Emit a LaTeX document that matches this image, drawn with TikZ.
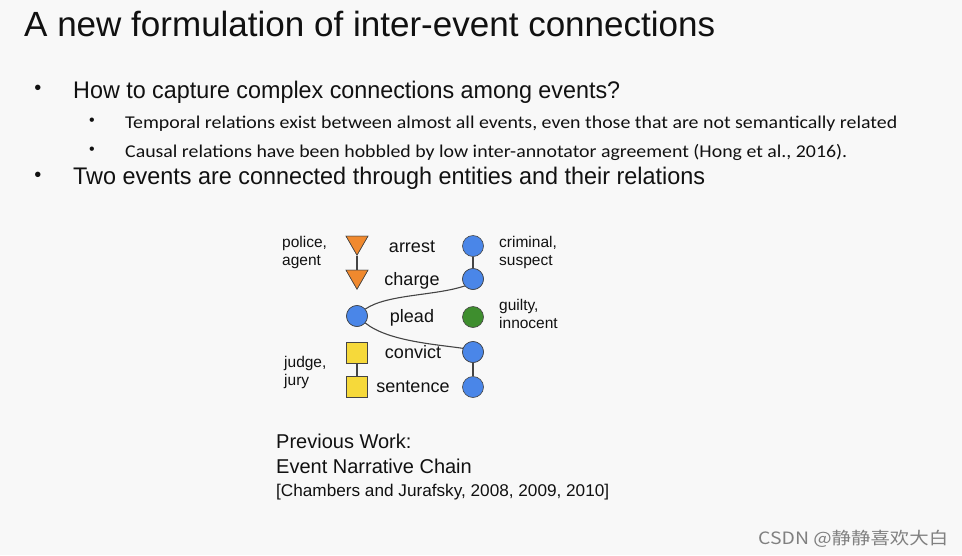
\documentclass[tikz,border=0pt]{standalone}
\usepackage{fontspec}
\usepackage{graphicx}
\setmainfont{Liberation Sans}
\newfontfamily\calib{Carlito}
\newfontfamily\cjk{Noto Sans CJK SC}
\usetikzlibrary{shapes.geometric}
\definecolor{bgc}{HTML}{F8F8F8}
\definecolor{txt}{HTML}{111111}
\definecolor{orng}{HTML}{F0892E}
\definecolor{blu}{HTML}{4A86E8}
\definecolor{grn}{HTML}{3E8E2E}
\definecolor{yel}{HTML}{F6D93A}
\definecolor{edge}{HTML}{444444}
\newcommand{\fitw}[2]{\resizebox{#1}{\height}{#2}}
\tikzset{
  lab/.style={anchor=base west, inner sep=0pt, text=txt},
  ev/.style={anchor=base, inner sep=0pt, text=txt, font=\fontsize{18}{20}\selectfont},
  ent/.style={anchor=base west, inner sep=0pt, text=txt, font=\fontsize{15.5}{17}\selectfont},
  tri/.style={regular polygon, regular polygon sides=3, shape border rotate=180, minimum size=25.4pt, inner sep=0pt, fill=orng, draw=edge, line width=0.6pt},
  circ/.style={circle, minimum size=21pt, inner sep=0pt, fill=blu, draw=edge, line width=0.6pt},
  sq/.style={rectangle, minimum size=21pt, inner sep=0pt, fill=yel, draw=edge, line width=0.6pt},
  link/.style={draw=edge, line width=1.1pt},
  bul/.style={anchor=center, inner sep=0pt, text=txt}
}
\begin{document}
\begin{tikzpicture}[x=1pt,y=-1pt]
\fill[bgc] (0,0) rectangle (962,555);
\useasboundingbox (0,0) rectangle (962,555);
% title
\node[lab, font=\fontsize{35}{40}\selectfont] (title) at (24,36) {\fitw{691pt}{A new formulation of inter-event connections}};
% bullets
\node[bul, font=\fontsize{20}{22}\selectfont] (b1) at (38,90) {•};
\node[lab, font=\fontsize{24}{26}\selectfont] (t1) at (73,98) {\fitw{547pt}{How to capture complex connections among events?}};
\node[bul, font=\fontsize{16}{18}\selectfont] (b2) at (92,122) {•};
\node[lab, font=\calib\fontsize{18}{20}\selectfont] (t2) at (125,128) {\fitw{772pt}{Temporal relations exist between almost all events, even those that are not semantically related}};
\node[bul, font=\fontsize{16}{18}\selectfont] (b3) at (92,151) {•};
\node[lab, font=\calib\fontsize{18}{20}\selectfont] (t3) at (125,157) {\fitw{722pt}{Causal relations have been hobbled by low inter-annotator agreement (Hong et al., 2016).}};
\node[bul, font=\fontsize{20}{22}\selectfont] (b4) at (38,177) {•};
\node[lab, font=\fontsize{24}{26}\selectfont] (t4) at (73,184) {\fitw{632pt}{Two events are connected through entities and their relations}};
% diagram shapes
\node[tri] (T1) at (357,242.4) {};
\node[tri] (T2) at (357,276.4) {};
\node[circ] (L) at (357,316) {};
\node[sq] (S1) at (357,353) {};
\node[sq] (S2) at (357,387) {};
\node[circ] (C1) at (473,246) {};
\node[circ] (C2) at (473,279) {};
\node[circ, fill=grn] (C3) at (473,317) {};
\node[circ] (C4) at (473,352) {};
\node[circ] (C5) at (473,387) {};
% links
\path[link] (T1) -- (T2);
\path[link] (S1) -- (S2);
\path[link] (C1) -- (C2);
\path[link] (C4) -- (C5);
\draw[link] (L.40) .. controls +(22,-15) and +(-30,10) .. (C2.220);
\draw[link] (L.-40) .. controls +(22,18) and +(-28,-4) .. (C4.160);
% redraw shapes over links
\node[tri] at (T1) {};
\node[tri] at (T2) {};
\node[circ] at (L) {};
\node[circ] at (C2) {};
\node[circ] at (C4) {};
% event labels
\node[ev] (e1) at (412,252) {arrest};
\node[ev] (e2) at (412,285) {charge};
\node[ev] (e3) at (412,322) {plead};
\node[ev] (e4) at (413,358) {convict};
\node[ev] (e5) at (413,392) {sentence};
% entity labels
\node[ent] (p1) at (282,247) {police,};
\node[ent] (p2) at (282,265) {agent};
\node[ent] (j1) at (284,367) {judge,};
\node[ent] (j2) at (284,385) {jury};
\node[ent] (c1) at (499,247) {criminal,};
\node[ent] (c2) at (499,265) {suspect};
\node[ent] (g1) at (499,310) {guilty,};
\node[ent] (g2) at (499,328) {innocent};
% previous work
\node[lab, font=\fontsize{20}{22}\selectfont] (pw1) at (276,448) {Previous Work:};
\node[lab, font=\fontsize{20}{22}\selectfont] (pw2) at (276,473) {Event Narrative Chain};
\node[lab, font=\fontsize{17}{19}\selectfont] (pw3) at (276,496) {\fitw{333pt}{[Chambers and Jurafsky, 2008, 2009, 2010]}};
% watermark
\node[lab, text=black!50, font=\cjk\fontsize{17}{19}\selectfont] (wm) at (758,544) {\fitw{190pt}{CSDN @静静喜欢大白}};
\end{tikzpicture}
\end{document}
